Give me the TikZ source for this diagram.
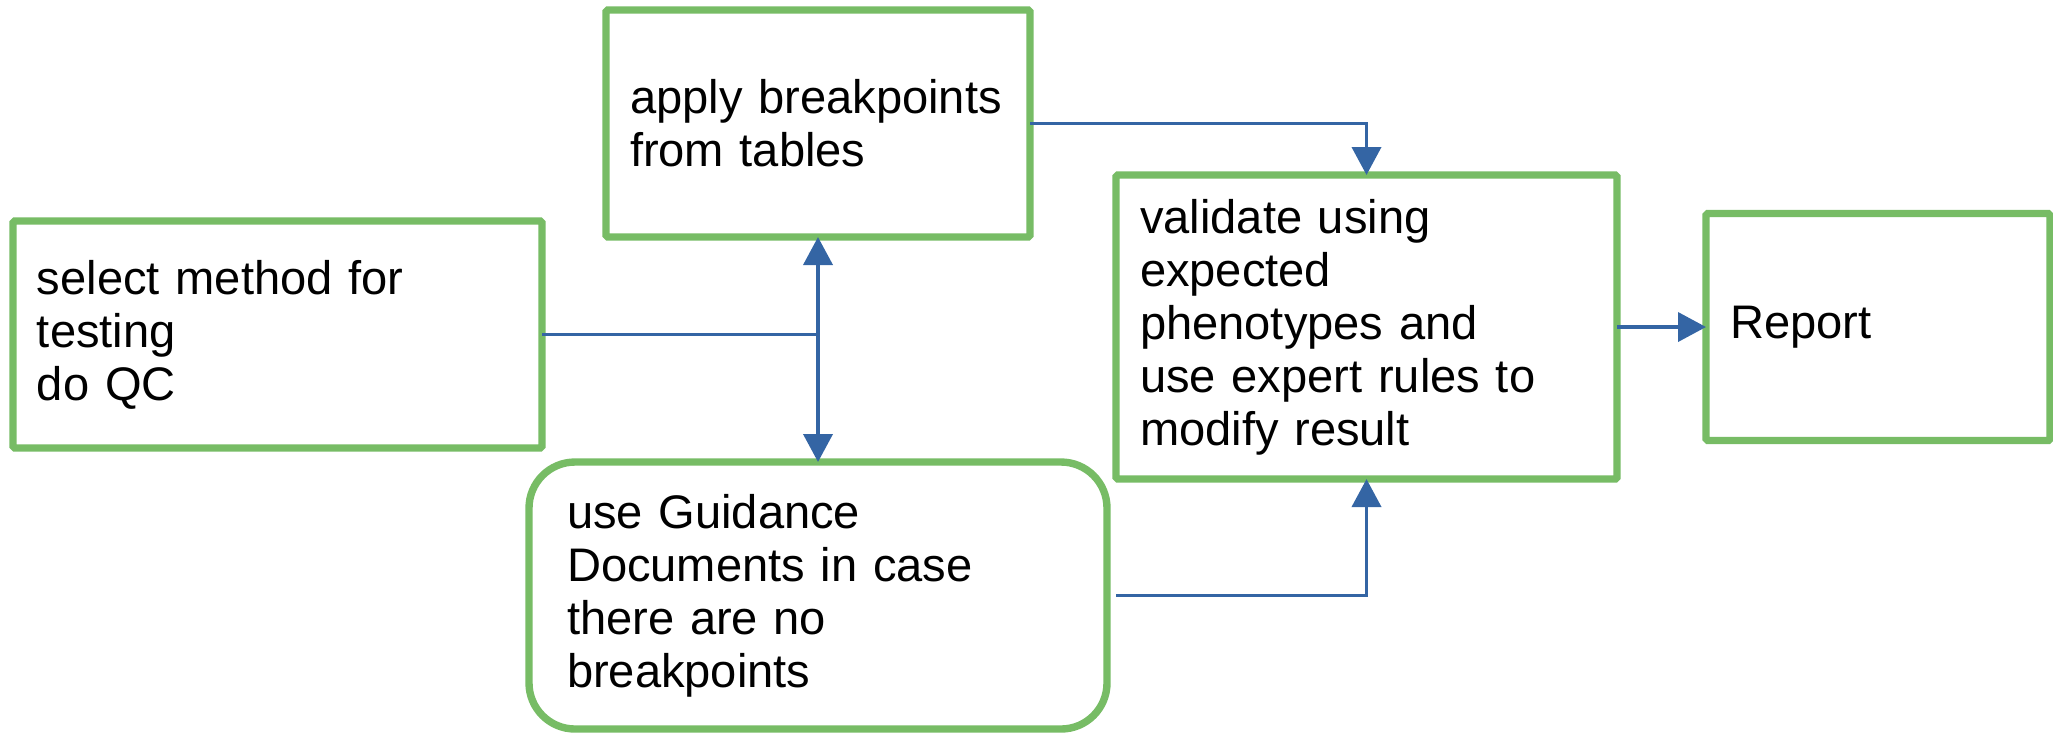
\documentclass[tikz,border=0pt]{standalone}
\usepackage{fontspec}
\setmainfont{Liberation Sans}
\usepackage{xcolor}
\usetikzlibrary{positioning, arrows.meta, calc}
\definecolor{boxgreen}{HTML}{77BC65}
\definecolor{linkblue}{HTML}{3465A4}

\begin{document}
\begin{tikzpicture}[
        >={Triangle[length=0.28cm, width=0.29cm]},
        stage/.style={rectangle, draw=boxgreen, line width=2.1pt, rounded corners=0.5pt, fill=white,
            align=left, inner xsep=0.24cm, inner ysep=0pt, outer sep=0pt,
            font=\fontsize{13.4}{15.1}\selectfont},
        link/.style={draw=linkblue, line width=1.1pt}
    ]
    \useasboundingbox (0,0) rectangle (20.53,-7.32);

    \node[stage, text width=4.81cm, minimum height=2.27cm] (select) at (2.775,-3.345) {select method for\\testing\\do QC};
    \node[stage, text width=3.76cm, minimum height=2.27cm] (apply) at (8.18,-1.235) {apply breakpoints\\from tables};
    \node[stage, rounded corners=0.46cm, inner xsep=0.38cm, text width=5.02cm, minimum height=2.67cm,
        below=2.25cm of apply] (guide) {use Guidance\\Documents in case\\there are no\\breakpoints};
    \node[stage, text width=4.53cm, minimum height=3.04cm] (valid) at (13.665,-3.27) {validate using\\expected\\phenotypes and\\use expert rules to\\modify result};
    \node[stage, text width=2.96cm, minimum height=2.27cm, right=0.89cm of valid] (report) {Report};

    % Links between the stages
    \coordinate (join) at (select.east -| apply.south);
    \draw[link] (select.east) -- (join);
    \draw[link, <->] (apply.south) -- (guide.north);
    \draw[link, ->] (apply.east) -| (valid.north);
    \draw[link, ->] ([xshift=0.09cm]guide.east) -| (valid.south);
    \draw[link, ->] (valid.east) -- (report.west);

\end{tikzpicture}
\end{document}
